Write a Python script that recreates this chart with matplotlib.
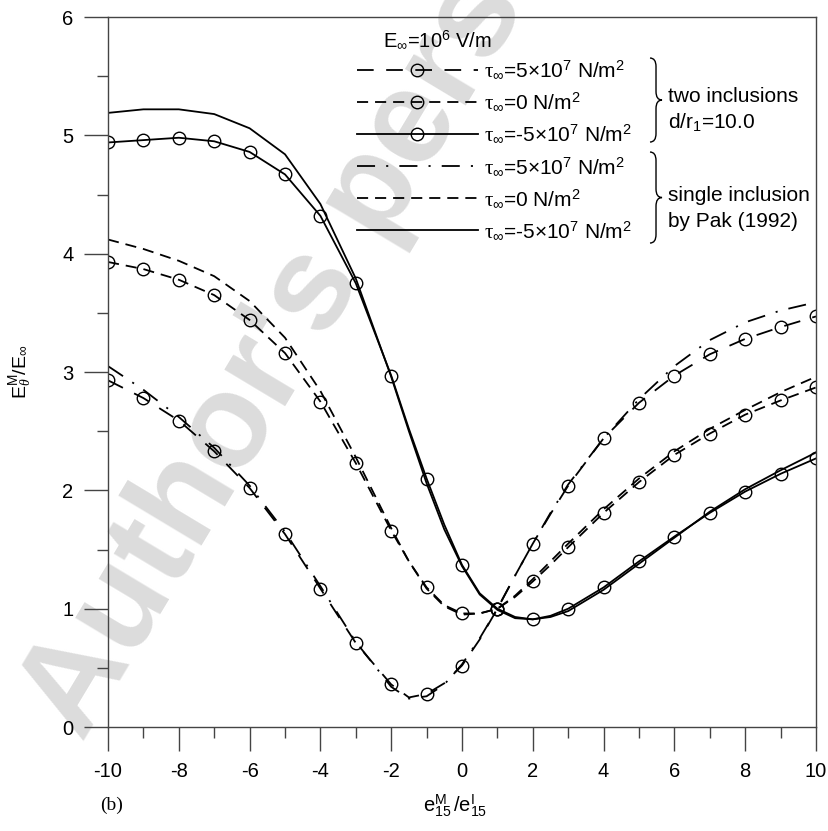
import numpy as np
import matplotlib
matplotlib.use('Agg')
import matplotlib.pyplot as plt
from matplotlib.lines import Line2D
from matplotlib.path import Path
from matplotlib.patches import PathPatch

plt.rcParams['font.family'] = ['Liberation Sans', 'DejaVu Sans']
plt.rcParams['mathtext.fontset'] = 'custom'
plt.rcParams['mathtext.rm'] = 'Liberation Sans'
plt.rcParams['mathtext.it'] = 'Liberation Serif'
plt.rcParams['mathtext.cal'] = 'Liberation Serif:italic'
plt.rcParams['lines.scale_dashes'] = False
plt.rcParams['axes.unicode_minus'] = False

# e15^M / e15^I
xs = [-10, -9, -8, -7, -6, -5, -4, -3, -2, -1.5, -1, -0.5, 0, 0.5, 1, 1.5, 2, 2.5,
      3, 4, 5, 6, 7, 8, 9, 10]

# two inclusions, d/r1 = 10.0 (circles at integer x)
circ_pos = [2.93, 2.78, 2.59, 2.33, 2.02, 1.63, 1.17, 0.71, 0.36, 0.25, 0.28, 0.37, 0.52,
            0.74, 1.00, 1.28, 1.55, 1.80, 2.04, 2.44, 2.74, 2.97, 3.15, 3.28, 3.38, 3.47]
circ_zero = [3.93, 3.87, 3.78, 3.65, 3.44, 3.16, 2.75, 2.23, 1.66, 1.40, 1.18, 1.03, 0.96,
             0.96, 1.00, 1.10, 1.23, 1.37, 1.52, 1.81, 2.07, 2.30, 2.48, 2.64, 2.76, 2.87]
circ_neg = [4.94, 4.96, 4.98, 4.95, 4.86, 4.67, 4.32, 3.75, 2.97, 2.52, 2.10, 1.71, 1.37,
            1.13, 1.00, 0.93, 0.91, 0.94, 1.00, 1.18, 1.40, 1.61, 1.81, 1.99, 2.14, 2.27]

# single inclusion, Pak (1992)
single_pos = [3.05, 2.85, 2.62, 2.36, 2.04, 1.65, 1.19, 0.72, 0.34, 0.24, 0.26, 0.36, 0.53,
              0.75, 1.00, 1.28, 1.55, 1.81, 2.05, 2.44, 2.77, 3.05, 3.27, 3.42, 3.52, 3.59]
single_zero = [4.12, 4.04, 3.94, 3.81, 3.60, 3.29, 2.84, 2.28, 1.68, 1.40, 1.17, 1.02, 0.95,
               0.96, 1.00, 1.11, 1.25, 1.40, 1.55, 1.84, 2.10, 2.33, 2.52, 2.68, 2.83, 2.96]
single_neg = [5.19, 5.22, 5.22, 5.18, 5.06, 4.84, 4.42, 3.79, 2.96, 2.50, 2.06, 1.67, 1.36,
              1.12, 0.99, 0.92, 0.91, 0.93, 0.98, 1.16, 1.38, 1.60, 1.82, 2.01, 2.17, 2.32]

labels = [r'$\tau_{\infty}$=5$\times$10$^{7}$ N/m$^{2}$',
          r'$\tau_{\infty}$=0 N/m$^{2}$',
          r'$\tau_{\infty}$=-5$\times$10$^{7}$ N/m$^{2}$']

mark_idx = [i for i, v in enumerate(xs) if float(v).is_integer()]

ls_long = (0, (12, 9))
ls_dashdot = (0, (13, 8, 1.5, 8))
ls_dash = (0, (8, 5))
styles = [ls_long, ls_dash, '-']
single_styles = [ls_dashdot, ls_dash, '-']

fig = plt.figure(figsize=(8.29, 8.31), dpi=100)
ax = fig.add_axes([0.1303, 0.1251, 0.854, 0.8544])
ax.set_facecolor('none')

fig.text(0.1, 0.105, "Author's personal copy", rotation=59, rotation_mode='anchor',
         fontsize=96, weight='bold', color='#dcdcdc', ha='left', va='baseline', zorder=-5)

mk = dict(marker='o', mfc='none', mec='k', ms=9, mew=1.0)
for ys, ls in zip([circ_pos, circ_zero, circ_neg], styles):
    ax.plot(xs, ys, color='k', lw=1.3, ls=ls, markevery=mark_idx, **mk)
for ys, ls in zip([single_pos, single_zero, single_neg], single_styles):
    ax.plot(xs, ys, color='k', lw=1.3, ls=ls)

handles = [Line2D([], [], color='k', lw=1.3, ls=ls, **mk) for ls in styles]
handles += [Line2D([], [], color='k', lw=1.3, ls=ls) for ls in single_styles]
ax.legend(handles, labels + labels, loc='upper left',
          bbox_to_anchor=((357 - 108) / 708, (727 - 59) / 710),
          frameon=False, fontsize=15, handlelength=5.8, handletextpad=0.3,
          labelspacing=0.48, borderaxespad=0, borderpad=0, numpoints=1)
ax.text((383 - 108) / 708, (727 - 39) / 710, r'E$_{\infty}$=10$^{6}$ V/m',
        transform=ax.transAxes, fontsize=14.5, va='center', ha='left')


def brace(x, y0, y1, w, hh):
    ym = (y0 + y1) / 2
    verts = [(x, y1), (x + w / 2, y1), (x + w / 2, y1 - hh),
             (x + w / 2, ym + hh), (x + w / 2, ym), (x + w, ym),
             (x + w / 2, ym), (x + w / 2, ym - hh),
             (x + w / 2, y0 + hh), (x + w / 2, y0), (x, y0)]
    codes = [Path.MOVETO, Path.CURVE3, Path.CURVE3, Path.LINETO, Path.CURVE3, Path.CURVE3,
             Path.CURVE3, Path.CURVE3, Path.LINETO, Path.CURVE3, Path.CURVE3]
    ax.add_patch(PathPatch(Path(verts, codes), fc='none', ec='k', lw=1.0,
                           transform=ax.transAxes, clip_on=False))


brace((650 - 108) / 708, (727 - 142) / 710, (727 - 58) / 710, 0.017, 0.012)
brace((650 - 108) / 708, (727 - 243) / 710, (727 - 152) / 710, 0.017, 0.012)
for txt, py in [('two inclusions', 96), (r'd/r$_{1}$=10.0', 122),
                ('single inclusion', 195), ('by Pak (1992)', 221)]:
    ax.text((668 - 108) / 708, (727 - py) / 710, txt, transform=ax.transAxes,
            fontsize=15, va='center', ha='left')

ax.set_xlim(-10, 10)
ax.set_ylim(0, 6)
ax.set_xticks(range(-10, 11, 2))
ax.set_xticks(range(-9, 10, 2), minor=True)
ax.set_yticks(range(0, 7))
ax.set_yticks(np.arange(0.5, 6, 1), minor=True)
ax.tick_params(which='major', direction='out', length=17, width=1.0, labelsize=14.5,
               pad=8, color='#444444')
ax.tick_params(which='minor', direction='out', length=8, width=1.0, color='#444444')
for s in ax.spines.values():
    s.set_linewidth(1.0)
    s.set_color('#444444')

ax.set_xlabel(r'$\mathrm{e}^{\mathrm{M}}_{15}\,/\mathrm{e}^{\mathrm{I}}_{15}$', fontsize=14.5)
ax.xaxis.set_label_coords(0.49, -0.092)
ax.set_ylabel(r'$\mathrm{E}^{\mathrm{M}}_{\mathcal{\theta}}/\mathrm{E}_{\infty}$', fontsize=14)
ax.yaxis.set_label_coords(-0.105, 0.5)

fig.text(100 / 829, 1 - 805 / 831, '(b)', family='Liberation Serif', fontsize=14,
         va='center', ha='left')

fig.savefig('out.png', dpi=100)
